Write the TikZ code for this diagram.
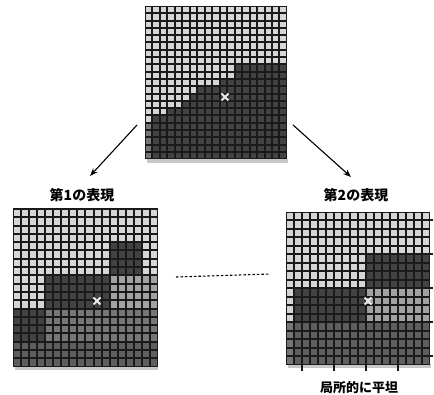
\documentclass[tikz,border=0pt]{standalone}
\usepackage{fontspec}
\newfontfamily\cjk{Noto Sans CJK JP}
\usetikzlibrary{arrows.meta}
\definecolor{c0}{HTML}{D6D6D6}
\definecolor{c1}{HTML}{A2A2A2}
\definecolor{c2}{HTML}{767676}
\definecolor{c3}{HTML}{5E5E5E}
\definecolor{c4}{HTML}{424242}
\definecolor{linec}{HTML}{1A1A1A}
\definecolor{shadowc}{HTML}{C8C8C8}
\tikzset{
  title/.style={font=\cjk\bfseries\fontsize{14}{16}\selectfont, inner sep=0pt},
  sublabel/.style={font=\cjk\bfseries\fontsize{13}{15}\selectfont, inner sep=0pt},
  arr/.style={line width=1.1pt, -{Stealth[length=8pt,width=6pt]}},
  dotline/.style={line width=1.1pt, dash pattern=on 2.5pt off 2pt},
  blockline/.style={line width=2pt, draw=linec},
  xmark/.style={line width=1.8pt, draw=white!92!black},
}
% #1 origin x, #2 origin y, #3 cell w, #4 cell h, #5 last col index, #6 row spec list
\newcommand\mygrid[6]{%
  \foreach \rr/\ta/\tb/\tc/\ka/\kb/\kc/\kd in {#6} {
    \foreach \q in {0,...,#5} {
      \ifnum\q<\ta\relax \edef\kk{c\ka}\else
        \ifnum\q<\tb\relax \edef\kk{c\kb}\else
          \ifnum\q<\tc\relax \edef\kk{c\kc}\else \edef\kk{c\kd}\fi\fi\fi
      \fill[fill=\kk] ({#1+\q*#3+1},{#2+\rr*#4+1}) rectangle ++({#3-2},{#4-2});
    }
  }%
}
\begin{document}
\begin{tikzpicture}[x=1pt,y=-1pt]
\useasboundingbox (0,0) rectangle (434,395);

% ---------- top grid ----------
\fill[shadowc] (147,159) rectangle (288,163);
\fill[linec] (145,6) rectangle ({145+19*7.47},{6+21*7.3});
\mygrid{145}{6}{7.47}{7.3}{18}{%
  0/19/19/19/0/0/0/0, 1/19/19/19/0/0/0/0, 2/19/19/19/0/0/0/0, 3/19/19/19/0/0/0/0,
  4/19/19/19/0/0/0/0, 5/19/19/19/0/0/0/0, 6/19/19/19/0/0/0/0, 7/19/19/19/0/0/0/0,
  8/12/19/19/0/4/4/4, 9/12/19/19/0/4/4/4, 10/10/19/19/0/4/4/4, 11/7/19/19/0/4/4/4,
  12/6/19/19/0/4/4/4, 13/5/19/19/0/4/4/4, 14/3/19/19/0/4/4/4, 15/1/19/19/0/4/4/4,
  16/1/19/19/2/4/4/4, 17/1/19/19/2/4/4/4, 18/1/19/19/2/4/4/4, 19/1/19/19/2/4/4/4,
  20/1/19/19/2/4/4/4}
\draw[xmark] (221.5,93.5) -- (228.5,100.5) (221.5,100.5) -- (228.5,93.5);

% ---------- left grid ----------
\fill[shadowc] (15,366) rectangle (158,370);
\fill[linec] (13,209) rectangle ({13+18*8.05},{209+19*8.3});
\mygrid{13}{209}{8.05}{8.3}{17}{%
  0/18/18/18/0/0/0/0, 1/18/18/18/0/0/0/0, 2/18/18/18/0/0/0/0, 3/18/18/18/0/0/0/0,
  4/12/16/18/0/4/0/0, 5/12/16/18/0/4/0/0, 6/12/16/18/0/4/0/0, 7/12/16/18/0/4/0/0,
  8/4/12/18/0/4/1/1, 9/4/12/18/0/4/1/1, 10/4/12/18/0/4/1/1, 11/4/12/18/0/4/1/1,
  12/4/18/18/4/2/2/2, 13/4/18/18/4/2/2/2, 14/4/18/18/4/2/2/2, 15/4/18/18/4/2/2/2,
  16/0/18/18/3/3/3/3, 17/0/18/18/3/3/3/3, 18/0/18/18/3/3/3/3}
\foreach \k in {1,2,3,4} {
  \draw[blockline] ({13+4*\k*8.05},209) -- ({13+4*\k*8.05},{209+19*8.3});
  \draw[blockline] (13,{209+4*\k*8.3}) -- ({13+18*8.05},{209+4*\k*8.3});
}
\draw[line width=2.4pt, draw=linec] (13,209) -- ({13+18*8.05},209);
\draw[xmark] (93.5,297.5) -- (100.5,304.5) (93.5,304.5) -- (100.5,297.5);

% ---------- right grid ----------
\fill[shadowc] (288,364) rectangle (431,368);
\fill[linec] (286,212) rectangle ({286+18*8},{212+18*8.5});
\mygrid{286}{212}{8}{8.5}{17}{%
  0/18/18/18/0/0/0/0, 1/18/18/18/0/0/0/0, 2/18/18/18/0/0/0/0, 3/18/18/18/0/0/0/0,
  4/18/18/18/0/0/0/0,
  5/10/18/18/0/4/4/4, 6/10/18/18/0/4/4/4, 7/10/18/18/0/4/4/4, 8/10/18/18/0/4/4/4,
  9/1/10/18/0/4/1/1, 10/1/10/18/0/4/1/1, 11/1/10/18/0/4/1/1, 12/1/10/18/0/4/1/1,
  13/1/18/18/2/3/3/3, 14/1/18/18/2/3/3/3, 15/1/18/18/2/3/3/3, 16/1/18/18/2/3/3/3,
  17/1/18/18/2/3/3/3}
\foreach \k in {0,1,2,3} {
  \draw[blockline] ({286+(2+4*\k)*8},212) -- ({286+(2+4*\k)*8},371);
}
\foreach \k in {0,1,2,3,4} {
  \draw[blockline] (286,{212+(1+4*\k)*8.5}) -- (433,{212+(1+4*\k)*8.5});
}
\draw[xmark] (364.5,297.5) -- (371.5,304.5) (364.5,304.5) -- (371.5,297.5);

% ---------- labels ----------
\node[title] (t1) at (82,195) {第1の表現};
\node[title] (t2) at (356,195) {第2の表現};
\node[sublabel] (t3) at (359,388) {局所的に平坦};

% ---------- connectors ----------
\coordinate (la) at (137,125);
\coordinate (lb) at (90,176);
\coordinate (ra) at (293,125);
\coordinate (rb) at (351,177);
\coordinate (da) at (176,277);
\coordinate (db) at (270,274);
\draw[arr] (la) -- (lb);
\draw[arr] (ra) -- (rb);
\draw[dotline] (da) -- (db);
\end{tikzpicture}
\end{document}
